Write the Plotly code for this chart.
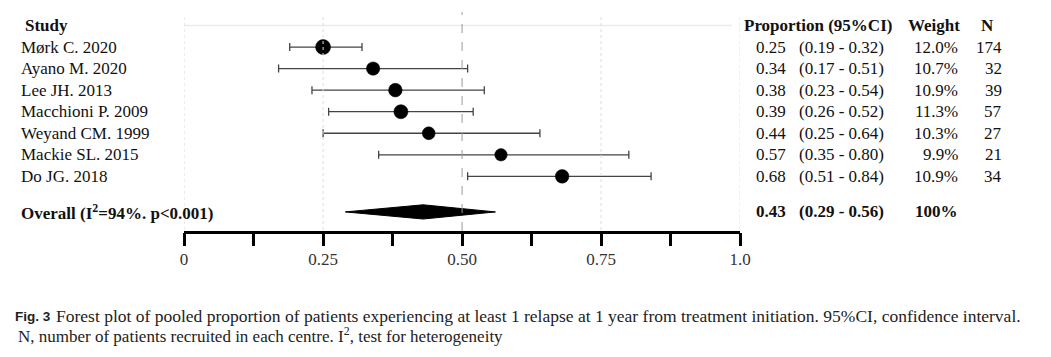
import plotly.graph_objects as go

# ---------------- data ----------------
studies = ["Mørk C. 2020", "Ayano M. 2020", "Lee JH. 2013", "Macchioni P. 2009",
           "Weyand CM. 1999", "Mackie SL. 2015", "Do JG. 2018"]
proportion = [0.25, 0.34, 0.38, 0.39, 0.44, 0.57, 0.68]
ci_low = [0.19, 0.17, 0.23, 0.26, 0.25, 0.35, 0.51]
ci_high = [0.32, 0.51, 0.54, 0.52, 0.64, 0.80, 0.84]
weights = [12.0, 10.7, 10.9, 11.3, 10.3, 9.9, 10.9]
n_patients = [174, 32, 39, 57, 27, 21, 34]

overall_label = "Overall (I<sup>2</sup>=94%. p<0.001)"
overall_est = 0.43
overall_low = 0.29
overall_high = 0.56
overall_weight = "100%"

tick_vals = [0, 0.25, 0.5, 0.75, 1.0]
tick_text = ["0", "0.25", "0.50", "0.75", "1.0"]
minor_step = 0.125
grid_vals = [0, 0.25, 0.75, 1.0]
null_line = 0.5

caption_fig = "Fig. 3"
caption_line1 = ("Forest plot of pooled proportion of patients experiencing at least 1 relapse "
                 "at 1 year from treatment initiation. 95%CI, confidence interval.")
caption_line2 = "N, number of patients recruited in each centre. I<sup>2</sup>, test for heterogeneity"

# ---------------- layout helpers ----------------
W, H = 1051, 357
ROW0, ROWH = 25.5, 21.55


def px(x):
    return x / W


def py(y):
    return 1 - y / H


rows = list(range(1, len(studies) + 1))
overall_row = 8.65

SERIF = "Liberation Serif, Times New Roman, serif"
FS = 17
TXT = "#111111"

fig = go.Figure()

# study points with CIs
fig.add_trace(go.Scatter(
    x=proportion, y=rows, mode="markers",
    marker=dict(color="#000000", opacity=1, size=[w * 1.25 for w in weights],
                line=dict(color="#000000", width=0.5)),
    error_x=dict(type="data", symmetric=False,
                 array=[h - p for h, p in zip(ci_high, proportion)],
                 arrayminus=[p - l for p, l in zip(proportion, ci_low)],
                 color="#444444", thickness=1.3, width=4),
    hoverinfo="skip", showlegend=False,
))

# overall diamond
dh = 0.33
fig.add_trace(go.Scatter(
    x=[overall_low, overall_est, overall_high, overall_est, overall_low],
    y=[overall_row, overall_row - dh, overall_row, overall_row + dh, overall_row],
    mode="lines", fill="toself", fillcolor="black",
    line=dict(color="black", width=1), hoverinfo="skip", showlegend=False,
))

shapes = []
for g in grid_vals:
    shapes.append(dict(type="line", xref="x", yref="paper", x0=g, x1=g,
                       y0=py(230), y1=py(15), layer="above",
                       line=dict(color="#dcdcdc", width=1, dash="dot")))
shapes.append(dict(type="line", xref="x", yref="paper", x0=null_line, x1=null_line,
                   y0=py(231), y1=py(12), layer="above",
                   line=dict(color="#9a9a9a", width=1, dash="dash")))
# faint top frame line
shapes.append(dict(type="line", xref="x", yref="paper", x0=0, x1=0.985,
                   y0=py(25.5), y1=py(25.5), layer="below",
                   line=dict(color="#ececec", width=1.5)))

ann = []


def text(x, y, s, anchor="left", bold=False, size=FS, font=SERIF, color=TXT, yref="y"):
    if bold:
        s = "<b>" + s + "</b>"
    ann.append(dict(x=x, y=y, xref="paper", yref=yref, text=s, showarrow=False,
                    xanchor=anchor, yanchor="middle", borderpad=0,
                    font=dict(family=font, size=size, color=color)))


# headers
text(px(20), 0, "Study", bold=True)
text(px(750), 0, "Proportion (95%CI)", bold=True)
text(px(916), 0, "Weight", bold=True)
text(px(998), 0, "N", anchor="center", bold=True)

for r, s, p, lo, hi, w, n in zip(rows, studies, proportion, ci_low, ci_high, weights, n_patients):
    text(px(16), r, s)
    text(px(794), r, f"{p:.2f}", anchor="right")
    text(px(806), r, f"({lo:.2f} - {hi:.2f})")
    text(px(969), r, f"{w:.1f}%", anchor="right")
    text(px(1013), r, f"{n}", anchor="right")

text(px(16), overall_row, overall_label, bold=True)
text(px(794), overall_row, f"{overall_est:.2f}", anchor="right", bold=True)
text(px(806), overall_row, f"({overall_low:.2f} - {overall_high:.2f})", bold=True)
text(px(969), overall_row, overall_weight, anchor="right", bold=True)

# caption
text(px(10), py(316), "<b>" + caption_fig + "</b>", size=13.5,
     font="Liberation Sans, Arial, sans-serif", color="#222222", yref="paper")
text(px(52), py(316), caption_line1, size=17.5, color="#222222", yref="paper")
text(px(13), py(335), caption_line2, size=17, color="#222222", yref="paper")

y_top = -ROW0 / ROWH
y_bot = (H - ROW0) / ROWH

fig.update_layout(
    width=W, height=H, autosize=False,
    margin=dict(l=0, r=0, t=0, b=0, pad=0),
    plot_bgcolor="white", paper_bgcolor="white",
    shapes=shapes, annotations=ann,
    xaxis=dict(domain=[182.7 / W, 746.7 / W], range=[0, 1], anchor="free",
               position=py(231.5), showgrid=False, zeroline=False,
               showline=True, linecolor="black", linewidth=2.5,
               ticks="outside", ticklen=13, tickwidth=2.5, tickcolor="black",
               tickvals=tick_vals, ticktext=tick_text, ticklabelstandoff=-2,
               minor=dict(tick0=0, dtick=minor_step, ticks="outside", ticklen=13,
                          tickwidth=2.5, tickcolor="black", showgrid=False),
               tickfont=dict(family=SERIF, size=17, color="#333333")),
    yaxis=dict(domain=[0, 1], range=[y_bot, y_top], visible=False, fixedrange=True),
)

fig.write_html("out.html", config={"displayModeBar": False},
               post_script="document.body.style.margin='0';")
